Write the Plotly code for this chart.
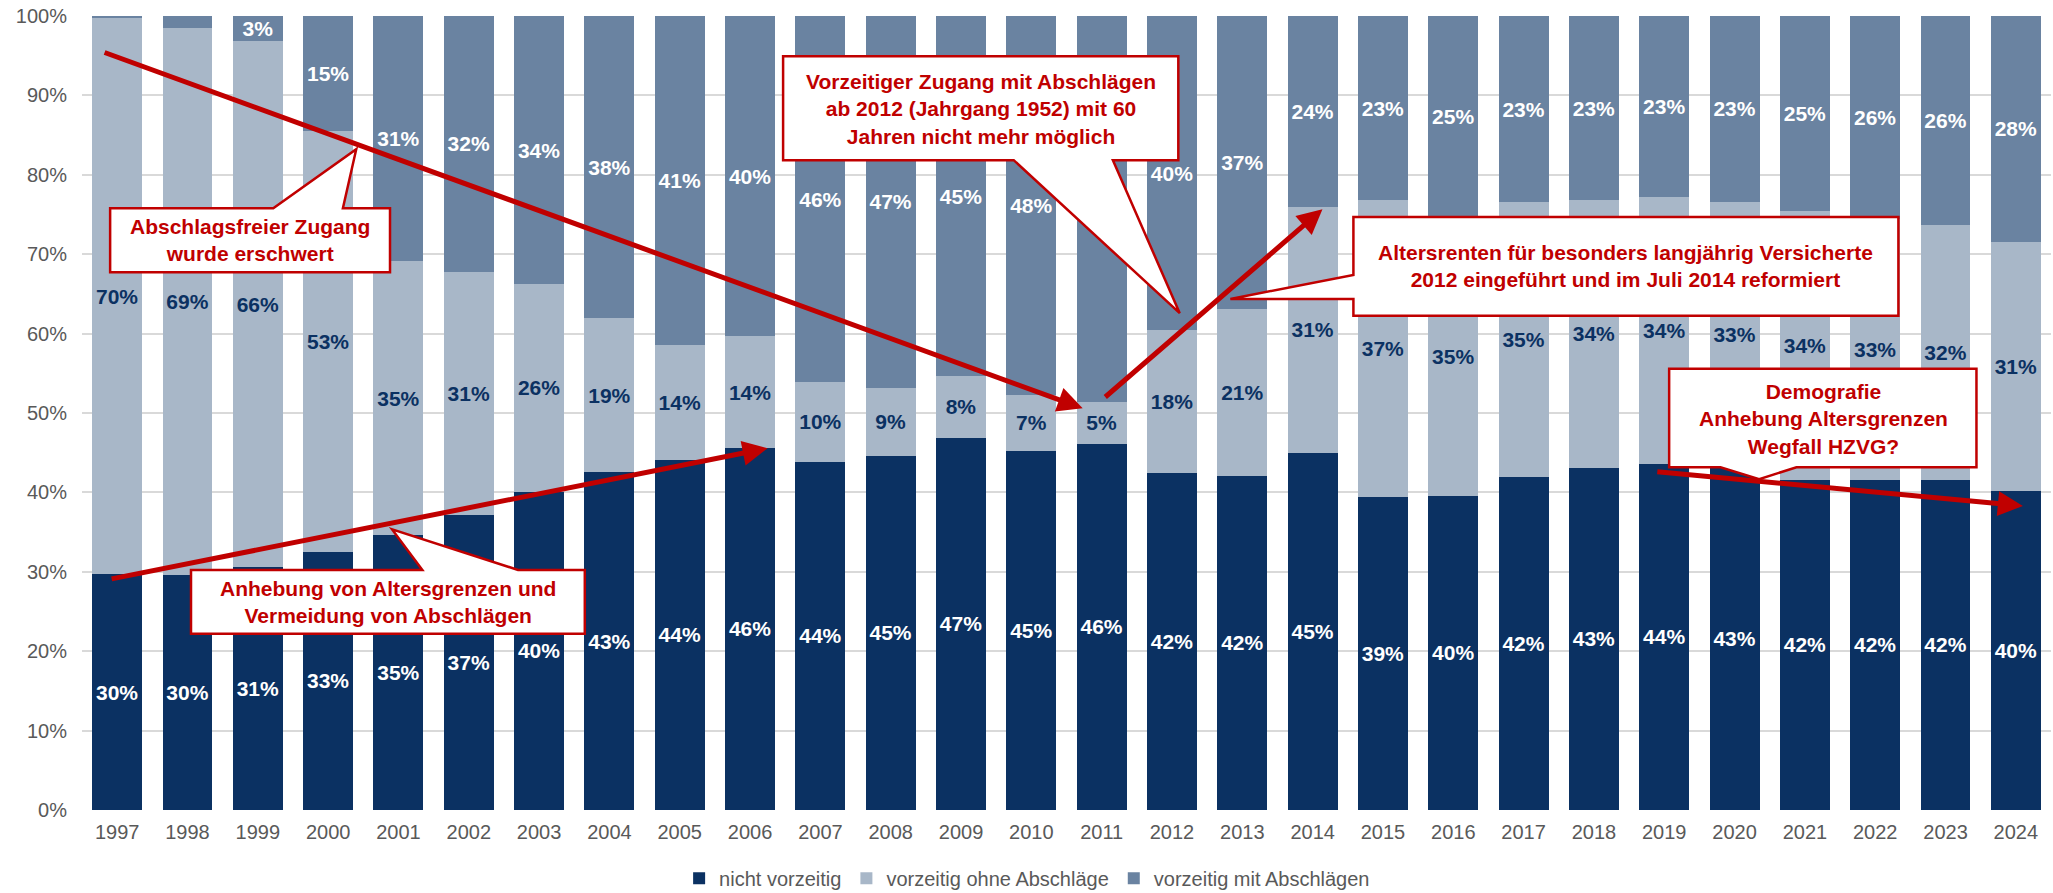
import plotly.graph_objects as go

# ---------------- data ----------------
years = [1997, 1998, 1999, 2000, 2001, 2002, 2003, 2004, 2005, 2006, 2007, 2008, 2009, 2010,
         2011, 2012, 2013, 2014, 2015, 2016, 2017, 2018, 2019, 2020, 2021, 2022, 2023, 2024]
nicht_vorzeitig = [29.70, 29.55, 30.60, 32.55, 34.60, 37.16, 40.10, 42.54, 44.09, 45.60, 43.87, 44.60, 46.89, 45.26,
                   46.14, 42.41, 42.11, 45.00, 39.39, 39.56, 41.98, 43.12, 43.58, 43.10, 41.57, 41.57, 41.57, 40.18]
ohne_abschlaege = [70.05, 68.94, 66.22, 52.94, 34.57, 30.62, 26.14, 19.42, 14.47, 14.09, 10.03, 8.58, 7.77, 7.01,
                   5.30, 18.04, 20.98, 30.96, 37.41, 35.04, 34.57, 33.68, 33.60, 33.49, 33.89, 32.83, 32.07, 31.40]
mit_abschlaegen = [0.25, 1.51, 3.18, 14.51, 30.83, 32.22, 33.76, 38.04, 41.44, 40.31, 46.10, 46.82, 45.34, 47.73,
                   48.56, 39.55, 36.91, 24.04, 23.20, 25.40, 23.45, 23.20, 22.82, 23.41, 24.54, 25.60, 26.36, 28.42]
series_names = ["nicht vorzeitig", "vorzeitig ohne Abschläge", "vorzeitig mit Abschlägen"]
y_ticks = [0, 10, 20, 30, 40, 50, 60, 70, 80, 90, 100]
y_ticktext = [f"{t}%" for t in y_ticks]
x_ticktext = [str(y) for y in years]

# ---------------- style ----------------
C_NICHT = "#0B3162"
C_OHNE = "#A8B7C8"
C_MIT = "#6A83A1"
RED = "#C00000"
GRAY = "#595959"
FONT = "Arial, 'Liberation Sans', sans-serif"


def labels(vals, minimum=2.0):
    return [f"{v:.0f}%" if v >= minimum else "" for v in vals]


fig = go.Figure()
for name, vals, col, tcol in [
    (series_names[0], nicht_vorzeitig, C_NICHT, "white"),
    (series_names[1], ohne_abschlaege, C_OHNE, C_NICHT),
    (series_names[2], mit_abschlaegen, C_MIT, "white"),
]:
    fig.add_trace(go.Bar(
        x=years, y=vals, name=name, marker=dict(color=col, line=dict(width=0)),
        text=labels(vals), textposition="inside", insidetextanchor="middle",
        constraintext="none", textangle=0,
        textfont=dict(family=FONT, size=21, color=tcol, weight="bold"),
        hoverinfo="skip",
    ))

# ---------------- callouts (speech bubbles) ----------------
def bubble_top(x0, x1, top, bot, tb1, tb2, tipx, tipy):
    return (f"M {x0},{top} L {tb1},{top} L {tipx},{tipy} L {tb2},{top} L {x1},{top} "
            f"L {x1},{bot} L {x0},{bot} Z")


def bubble_bottom(x0, x1, top, bot, tb1, tb2, tipx, tipy):
    return (f"M {x0},{top} L {x1},{top} L {x1},{bot} L {tb2},{bot} L {tipx},{tipy} "
            f"L {tb1},{bot} L {x0},{bot} Z")


def bubble_left(x0, x1, top, bot, th, tl, tipx):
    return (f"M {x0},{top} L {x1},{top} L {x1},{bot} L {x0},{bot} L {x0},{tl} "
            f"L {tipx},{tl} L {x0},{th} Z")


callouts = [
    (bubble_top(1996.90, 2000.88, 75.80, 67.74, 1999.22, 2000.21, 2000.40, 83.22),
     1998.89, 71.8, "Abschlagsfreier Zugang<br>wurde erschwert"),
    (bubble_bottom(2006.47, 2012.09, 94.93, 81.84, 2009.75, 2011.16, 2012.11, 62.57),
     2009.28, 88.3, "Vorzeitiger Zugang mit Abschlägen<br>ab 2012 (Jahrgang 1952) mit 60<br>Jahren nicht mehr möglich"),
    (bubble_top(1998.05, 2003.65, 30.24, 22.19, 2001.34, 2002.70, 2000.91, 35.34),
     2000.85, 26.2, "Anhebung von Altersgrenzen und<br>Vermeidung von Abschlägen"),
    (bubble_left(2014.58, 2022.33, 74.70, 62.25, 67.39, 64.37, 2012.83),
     2018.45, 68.5, "Altersrenten für besonders langjährig Versicherte<br>2012 eingeführt und im Juli 2014 reformiert"),
    (bubble_bottom(2019.07, 2023.44, 55.58, 43.17, 2019.80, 2020.88, 2020.35, 41.66),
     2021.26, 49.3, "Demografie<br>Anhebung Altersgrenzen<br>Wegfall HZVG?"),
]

shapes = []
annotations = []
for path, tx, ty, txt in callouts:
    shapes.append(dict(type="path", path=path, xref="x", yref="y", layer="above",
                       fillcolor="white", line=dict(color=RED, width=2.5)))
    annotations.append(dict(x=tx, y=ty, xref="x", yref="y", text=f"<b>{txt}</b>", showarrow=False,
                            xanchor="center", yanchor="middle", align="center",
                            font=dict(family=FONT, size=21, color=RED)))

# ---------------- trend arrows ----------------
arrows = [
    ((1996.80, 95.47), (2010.73, 50.59)),
    ((2011.03, 51.85), (2014.14, 75.67)),
    ((1996.90, 29.07), (2006.25, 45.56)),
    ((2018.88, 42.61), (2024.10, 38.30)),
]
for (sx, sy), (ex, ey) in arrows:
    annotations.append(dict(x=ex, y=ey, ax=sx, ay=sy, xref="x", yref="y", axref="x", ayref="y",
                            text="", showarrow=True, arrowhead=2, arrowsize=1.0, arrowwidth=5,
                            arrowcolor=RED, standoff=0, startstandoff=0))

fig.update_layout(
    width=2053, height=893,
    margin=dict(l=82, r=2, t=16, b=83, autoexpand=False),
    barmode="stack", bargap=0.29,
    plot_bgcolor="white", paper_bgcolor="white",
    font=dict(family=FONT, size=20, color=GRAY),
    showlegend=True,
    hovermode=False,
    legend=dict(orientation="h", x=0.48, xanchor="center", y=-0.086, yanchor="middle",
                traceorder="normal", font=dict(family=FONT, size=20, color=GRAY),
                itemclick=False),
    shapes=shapes,
    annotations=annotations,
    xaxis=dict(range=[1996.5, 2024.5], tickvals=years, ticktext=x_ticktext, showgrid=False,
               showline=False, zeroline=False, ticks="", ticklabelstandoff=8,
               tickfont=dict(family=FONT, size=20, color=GRAY), fixedrange=True),
    yaxis=dict(range=[0, 100], tickvals=y_ticks, ticktext=y_ticktext, showgrid=True,
               gridcolor="#D9D9D9", gridwidth=2, zeroline=False, showline=False, ticks="",
               ticklabelstandoff=14, tickfont=dict(family=FONT, size=20, color=GRAY), fixedrange=True),
)

fig.write_html("out.html", config={"displayModeBar": False},
               post_script="document.body.style.margin='0px';document.body.style.overflow='hidden';")
